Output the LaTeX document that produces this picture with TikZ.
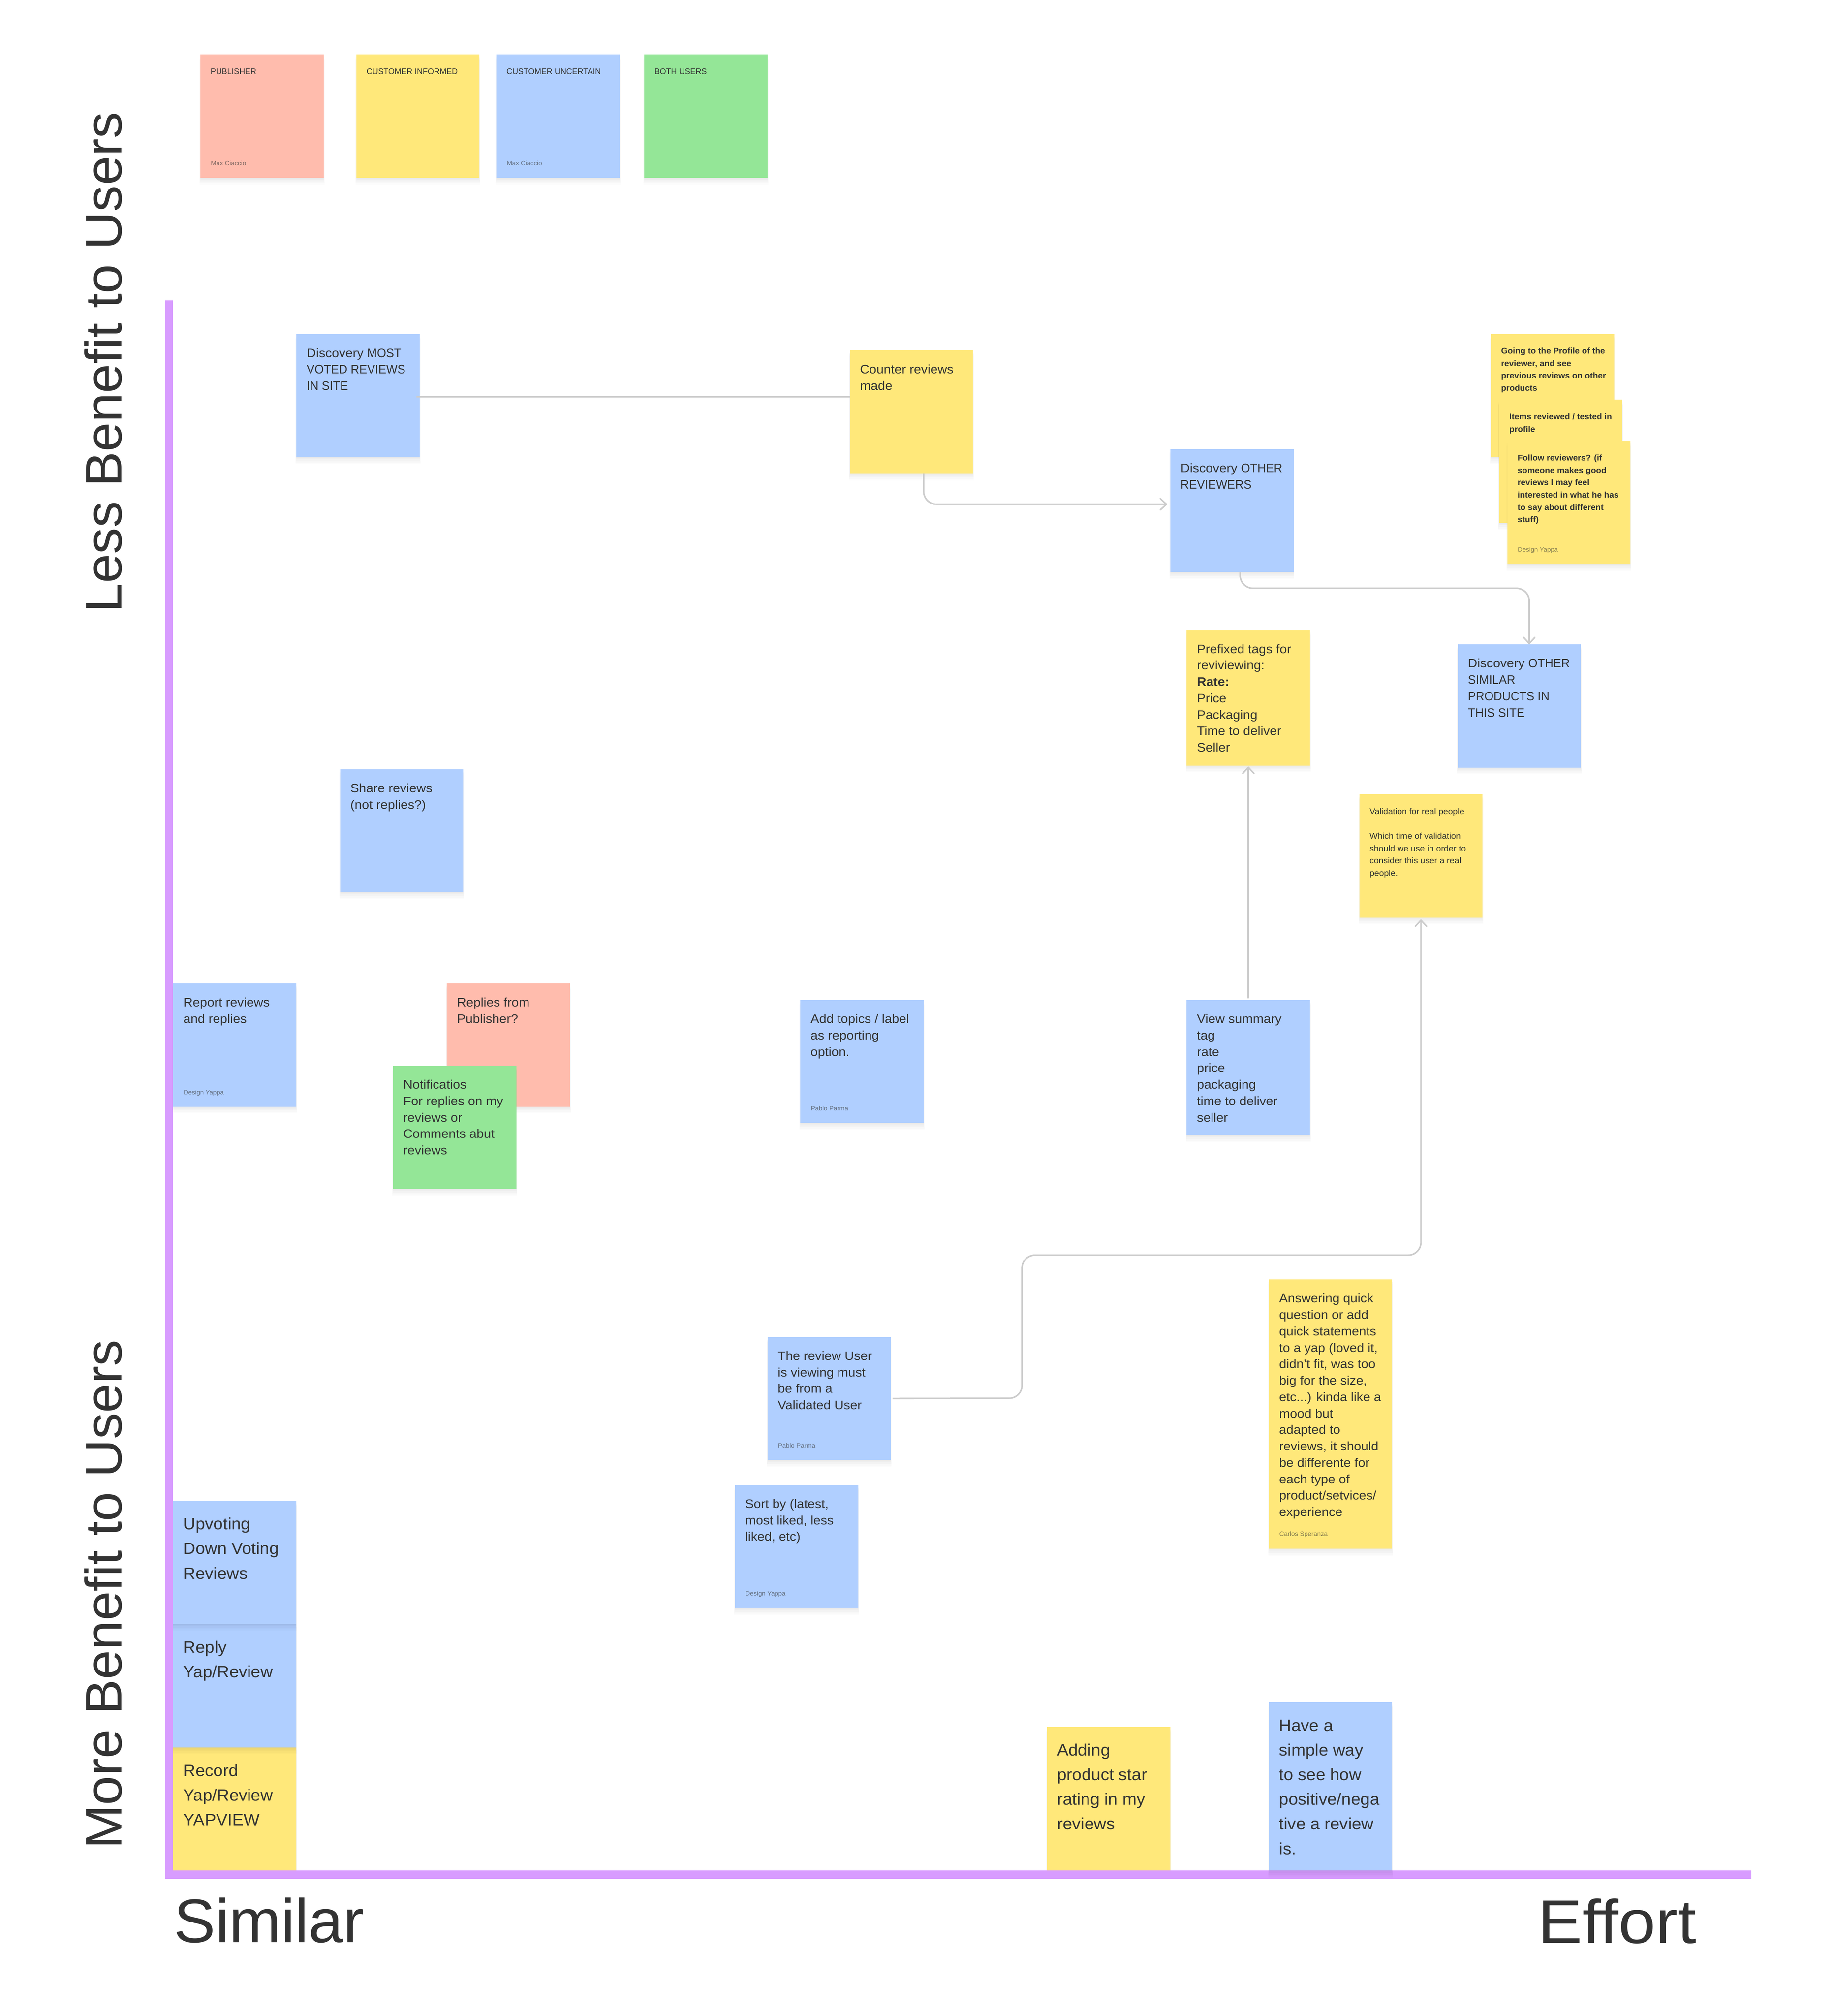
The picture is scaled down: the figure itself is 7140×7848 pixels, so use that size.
\documentclass[tikz,border=0pt]{standalone}
\usepackage{fontspec}
\setmainfont[FakeStretch=1.05]{Liberation Sans}
\newfontfamily\titlefont[FakeStretch=1.01]{Liberation Sans}
\newfontfamily\sidefont[FakeStretch=1.025]{Liberation Sans}
\newfontfamily\effortfont[FakeStretch=1.085]{Liberation Sans}
\newfontfamily\capfont[FakeStretch=0.96]{Liberation Sans}
\newfontfamily\legendfont[FakeStretch=0.98]{Liberation Sans}
\newfontfamily\largefont[FakeStretch=1.035]{Liberation Sans}
\newfontfamily\boldsmallfont[FakeStretch=1.03]{Liberation Sans}
\usetikzlibrary{arrows.meta,shadows}
\definecolor{noteyellow}{HTML}{FFE87A}
\definecolor{noteblue}{HTML}{B0CFFF}
\definecolor{notesalmon}{HTML}{FFBCAD}
\definecolor{notegreen}{HTML}{94E697}
\definecolor{axispurple}{HTML}{D89CFF}
\definecolor{inktext}{HTML}{333333}
\definecolor{linkgrey}{HTML}{CCCCCC}
\newlength\notepad
\newcommand{\txS}{\fontsize{6.4pt}{9.6pt}\selectfont\setlength\notepad{8.8pt}}
\newcommand{\txC}{\legendfont\fontsize{6.4pt}{9.6pt}\selectfont\setlength\notepad{8.8pt}}
\newcommand{\txB}{\boldsmallfont\fontsize{6.4pt}{9.6pt}\selectfont\bfseries\setlength\notepad{8.8pt}}
\newcommand{\txM}{\fontsize{9.6pt}{12.8pt}\selectfont\setlength\notepad{9.2pt}}
\newcommand{\txL}{\largefont\fontsize{12.8pt}{19.2pt}\selectfont\setlength\notepad{9.1pt}}
\newcommand{\cp}[1]{{\capfont #1}}
\newcommand{\nbody}[3]{\parbox[c][#1][t]{96pt}{\raggedright\leftskip=8pt\rightskip=0pt plus 1fil #2\vspace*{\notepad}\par\noindent\strut #3\par}}
\newcommand{\noteby}[2]{\node[byline] (#1-by) at ([xshift=8pt,yshift=9.6pt]#1.south west) {#2};}
\tikzset{
  softshadow/.style={
    general shadow={shadow yshift=-0.6pt,fill=black,opacity=0.02},
    general shadow={shadow yshift=-1.6pt,fill=black,opacity=0.02},
    general shadow={shadow yshift=-2.6pt,shadow scale=1.008,fill=black,opacity=0.018},
    general shadow={shadow yshift=-3.6pt,shadow scale=1.012,fill=black,opacity=0.014},
    general shadow={shadow yshift=-4.6pt,shadow scale=1.012,fill=black,opacity=0.01}},
  note/.style={rectangle,anchor=north west,inner sep=0pt,outer sep=0pt,text=inktext,fill=#1,softshadow},
  byline/.style={anchor=base west,inner sep=0pt,text=inktext,text opacity=0.6,font=\fontsize{4.8pt}{6pt}\selectfont},
  bigtitle/.style={inner sep=0pt,anchor=base west,text=inktext},
  link/.style={draw=linkgrey,line width=1.2pt,rounded corners=10pt},
  linkarrow/.style={link,-{Straight Barb[length=4.8pt,width=8.8pt,line width=1.2pt,round]}},
}
\begin{document}
\begin{tikzpicture}[x=0.2pt,y=-0.2pt]
\useasboundingbox (0,0) rectangle (7140,7848);
\fill[white] (0,0) rectangle (7140,7848);
% notes lying under the axis
\node[note=noteyellow] (record) at (674,6802) {\nbody{96pt}{\txL}{Record\\Yap/Review\\YAPVIEW}};
\node[note=noteblue] (reply) at (674,6322) {\nbody{96pt}{\txL}{Reply\\Yap/Review}};
\node[note=noteblue] (upvote) at (674,5842) {\nbody{96pt}{\txL}{Upvoting\\Down Voting\\Reviews}};
\node[note=noteyellow] (stars) at (4076,6722) {\nbody{112pt}{\txL}{Adding\\product star\\rating in my\\reviews}};
% axes
\fill[axispurple] (642,1170) rectangle (674,7314);
\fill[axispurple] (642,7282) rectangle (6818,7314);
% axis titles
\node[bigtitle,rotate=90,font=\sidefont\fontsize{40pt}{48pt}\selectfont] (less) at (474,2386) {Less Benefit to Users};
\node[bigtitle,rotate=90,font=\sidefont\fontsize{40pt}{48pt}\selectfont] (more) at (474,7199) {More Benefit to Users};
\node[bigtitle,font=\titlefont\fontsize{48pt}{56pt}\selectfont] (similar) at (676,7562) {Similar};
\node[bigtitle,font=\effortfont\fontsize{48pt}{56pt}\selectfont] (effort) at (5986,7565) {Effort};
% legend
\node[note=notesalmon] (legpub) at (780,212) {\nbody{96pt}{\txC}{PUBLISHER}};
\noteby{legpub}{Max Ciaccio}
\node[note=noteyellow] (leginf) at (1387,212) {\nbody{96pt}{\txC}{CUSTOMER INFORMED}};
\node[note=noteblue] (legunc) at (1932,212) {\nbody{96pt}{\txC}{CUSTOMER UNCERTAIN}};
\noteby{legunc}{Max Ciaccio}
\node[note=notegreen] (legboth) at (2508,212) {\nbody{96pt}{\txC}{BOTH USERS}};
% board notes
\node[note=noteblue] (most) at (1154,1300) {\nbody{96pt}{\txM}{Discovery \cp{MOST}\\\cp{VOTED REVIEWS}\\\cp{IN SITE}}};
\node[note=noteyellow] (counter) at (3308,1364) {\nbody{96pt}{\txM}{Counter reviews\\made}};
\node[note=noteblue] (other) at (4556,1748) {\nbody{96pt}{\txM}{Discovery \cp{OTHER}\\\cp{REVIEWERS}}};
\node[note=noteyellow] (profile) at (5804,1300) {\nbody{96pt}{\txB}{Going to the Profile of the\\reviewer, and see\\previous reviews on other\\products}};
\node[note=noteyellow] (items) at (5836,1556) {\nbody{96pt}{\txB}{Items reviewed / tested in\\profile}};
\node[note=noteyellow] (follow) at (5868,1716) {\nbody{96pt}{\txB}{Follow reviewers? (if\\someone makes good\\reviews I may feel\\interested in what he has\\to say about different\\stuff)}};
\noteby{follow}{Design Yappa}
\node[note=noteyellow] (tags) at (4620,2452) {\nbody{105.6pt}{\txM}{Prefixed tags for\\reviviewing:\\\textbf{Rate:}\\Price\\Packaging\\Time to deliver\\Seller}};
\node[note=noteblue] (similarsite) at (5675,2508) {\nbody{96pt}{\txM}{Discovery \cp{OTHER}\\\cp{SIMILAR}\\\cp{PRODUCTS IN}\\\cp{THIS SITE}}};
\node[note=noteblue] (share) at (1324,2994) {\nbody{96pt}{\txM}{Share reviews\\(not replies?)}};
\node[note=noteyellow] (realpeople) at (5292,3092) {\nbody{96pt}{\txS}{Validation for real people\\\mbox{}\\Which time of validation\\should we use in order to\\consider this user a real\\people.}};
\node[note=noteblue] (report) at (674,3828) {\nbody{96pt}{\txM}{Report reviews\\and replies}};
\noteby{report}{Design Yappa}
\node[note=notesalmon] (replies) at (1739,3828) {\nbody{96pt}{\txM}{Replies from\\Publisher?}};
\node[note=notegreen] (notif) at (1530,4148) {\nbody{96pt}{\txM}{Notificatios\\For replies on my\\reviews or\\Comments abut\\reviews}};
\node[note=noteblue] (topics) at (3116,3892) {\nbody{96pt}{\txM}{Add topics / label\\as reporting\\option.}};
\noteby{topics}{Pablo Parma}
\node[note=noteblue] (summary) at (4620,3892) {\nbody{105.6pt}{\txM}{View summary\\tag\\rate\\price\\packaging\\time to deliver\\seller}};
\node[note=noteblue] (validated) at (2988,5204) {\nbody{96pt}{\txM}{The review User\\is viewing must\\be from a\\Validated User}};
\noteby{validated}{Pablo Parma}
\node[note=noteblue] (sortby) at (2861,5780) {\nbody{96pt}{\txM}{Sort by (latest,\\most liked, less\\liked, etc)}};
\noteby{sortby}{Design Yappa}
\node[note=noteyellow] (quick) at (4940,4980) {\nbody{209.6pt}{\txM}{Answering quick\\question or add\\quick statements\\to a yap (loved it,\\didn’t fit, was too\\big for the size,\\etc...) kinda like a\\mood but\\adapted to\\reviews, it should\\be differente for\\each type of\\product/setvices/\\experience}};
\noteby{quick}{Carlos Speranza}
\node[note=noteblue] (mood) at (4940,6626) {\nbody{131.2pt}{\txL}{Have a\\simple way\\to see how\\positive/nega\\tive a review\\is.}};
% connectors
\coordinate (otherbend) at (5400,2290);
\coordinate (valbendA) at (3979,5443);
\coordinate (valbendB) at (3979,4886);
\draw[link] ([xshift=-2.4pt,yshift=-0.8pt]most.east) -- ([yshift=-0.8pt]most.east -| counter.west);
\draw[linkarrow] ([xshift=9.6pt]counter.south) |- ([xshift=-2.4pt,yshift=5pt]other.west);
\draw[linkarrow] ([xshift=6.4pt]other.south) |- (otherbend) -| ([xshift=7.7pt]similarsite.north);
\draw[linkarrow] ([yshift=1pt]summary.north) -- ([yshift=-0.8pt]tags.south);
\draw[linkarrow] ([xshift=1.4pt]validated.east) -- (valbendA) -- (valbendB) -| ([yshift=-1.4pt]realpeople.south);
\end{tikzpicture}
\end{document}
